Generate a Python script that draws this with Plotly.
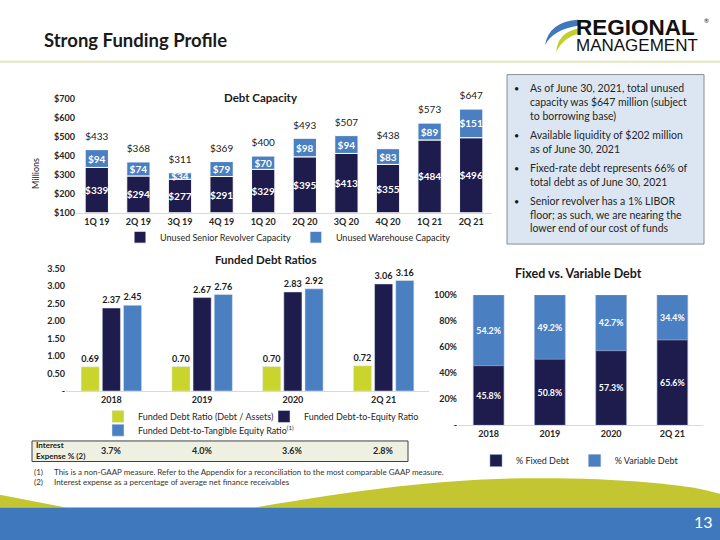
import plotly.graph_objects as go

# debt capacity ($ millions)
quarters = ["1Q 19", "2Q 19", "3Q 19", "4Q 19", "1Q 20", "2Q 20", "3Q 20", "4Q 20", "1Q 21", "2Q 21"]
senior = [339, 294, 277, 291, 329, 395, 413, 355, 484, 496]
warehouse = [94, 74, 34, 79, 70, 98, 94, 83, 89, 151]
total_cap = [433, 368, 311, 369, 400, 493, 507, 438, 573, 647]

# funded debt ratios
periods = ["2018", "2019", "2020", "2Q 21"]
debt_assets = [0.69, 0.70, 0.70, 0.72]
debt_equity = [2.37, 2.67, 2.83, 3.06]
debt_tangible = [2.45, 2.76, 2.92, 3.16]
interest_exp = ["3.7%", "4.0%", "3.6%", "2.8%"]

# fixed vs variable (%)
fixed_pct = [45.8, 50.8, 57.3, 65.6]
variable_pct = [54.2, 49.2, 42.7, 34.4]

bullets = [
    ["As of June 30, 2021, total unused", "capacity was $647 million (subject", "to borrowing base)"],
    ["Available liquidity of $202 million", "as of June 30, 2021"],
    ["Fixed-rate debt represents 66% of", "total debt as of June 30, 2021"],
    ["Senior revolver has a 1% LIBOR", "floor; as such, we are nearing the", "lower end of our cost of funds"],
]

NAVY = "#1e1b4d"
BLUE = "#4a7fc1"
GREEN = "#c9d42c"
FONT = "Lato, Noto Sans, sans-serif"
W, H = 720, 540
Y0 = 100  # debt capacity axis floor


def px(x):
    return x / W


def py(y):
    return 1 - y / H


fig = go.Figure()

# --- Debt Capacity ---
fig.add_trace(go.Bar(
    x=quarters, y=[v - Y0 for v in senior], base=Y0, name="Unused Senior Revolver Capacity",
    marker=dict(color=NAVY, line=dict(color="white", width=1)),
    width=0.56, offset=-0.28,
    text=["$%d" % v for v in senior], textposition="inside", insidetextanchor="middle", textangle=0,
    textfont=dict(color="white", size=10, family=FONT, weight="bold"),
    constraintext="none", xaxis="x", yaxis="y", legend="legend"))
fig.add_trace(go.Bar(
    x=quarters, y=warehouse, base=senior, name="Unused Warehouse Capacity",
    marker=dict(color=BLUE, line=dict(color="white", width=1)),
    width=0.56, offset=-0.28,
    text=["$%d" % v for v in warehouse], textposition="inside", insidetextanchor="middle", textangle=0,
    textfont=dict(color="white", size=10, family=FONT, weight="bold"),
    constraintext="none", xaxis="x", yaxis="y", legend="legend"))
fig.add_trace(go.Scatter(
    x=quarters, y=total_cap, mode="markers+text", text=["$%d" % v for v in total_cap],
    marker=dict(size=10, opacity=0),
    textposition="top center", textfont=dict(color="#1a1a1a", size=10, family=FONT),
    showlegend=False, cliponaxis=False, xaxis="x", yaxis="y", hoverinfo="skip"))

# --- Funded Debt Ratios ---
for vals, nm, col, off, lg in [
    (debt_assets, "Funded Debt Ratio (Debt / Assets)", GREEN, -0.3333, "legend2"),
    (debt_equity, "Funded Debt-to-Equity Ratio", NAVY, -0.1, "legend2"),
    (debt_tangible, "Funded Debt-to-Tangible Equity Ratio<sup>(1)</sup>", BLUE, 0.1333, "legend3"),
]:
    fig.add_trace(go.Bar(
        x=periods, y=vals, name=nm, marker=dict(color=col),
        width=0.2, offset=off,
        text=["%.2f" % v for v in vals], textposition="outside", textangle=0,
        textfont=dict(color="#1a1a1a", size=10, family=FONT, weight="bold"),
        cliponaxis=False, xaxis="x2", yaxis="y2", legend=lg))

# --- Fixed vs Variable ---
fig.add_trace(go.Bar(
    x=periods, y=fixed_pct, name="% Fixed Debt",
    marker=dict(color=NAVY, line=dict(color="#8a9ccc", width=0.6)),
    width=0.5, offset=-0.25,
    text=["%.1f%%" % v for v in fixed_pct], textposition="inside", insidetextanchor="middle", textangle=0,
    textfont=dict(color="white", size=10, family=FONT, weight="bold"),
    xaxis="x3", yaxis="y3", legend="legend4"))
fig.add_trace(go.Bar(
    x=periods, y=variable_pct, base=fixed_pct, name="% Variable Debt",
    marker=dict(color=BLUE, line=dict(color="#8a9ccc", width=0.6)),
    width=0.5, offset=-0.25,
    text=["%.1f%%" % v for v in variable_pct], textposition="inside", insidetextanchor="middle", textangle=0,
    textfont=dict(color="white", size=10, family=FONT, weight="bold"),
    xaxis="x3", yaxis="y3", legend="legend4"))

tickf = dict(size=9, family=FONT, color="#262626", weight="bold")
legf = dict(size=9, family=FONT, color="#262626")

shapes = []
annotations = []

# header line
shapes.append(dict(type="line", xref="paper", yref="paper", x0=0, x1=1, y0=py(57), y1=py(57),
                   line=dict(color="#e3e8bd", width=2)))
# info box
shapes.append(dict(type="rect", xref="paper", yref="paper", x0=px(507), x1=px(704), y0=py(70), y1=py(243),
                   fillcolor="#dce6f2", line=dict(color="#8c8c8c", width=1)))
# interest expense strip
shapes.append(dict(type="rect", xref="paper", yref="paper", x0=px(32), x1=px(408), y0=py(444), y1=py(465),
                   fillcolor="#eef1e2", line=dict(color="#404040", width=1)))

# bottom band
shapes.append(dict(type="path", xref="paper", yref="paper",
                   path="M%f,%f Q%f,%f %f,%f L%f,%f Z" % (px(0), py(499), px(30), py(505), px(66), py(512), px(0), py(512)),
                   fillcolor="#c3c631", line=dict(width=0)))
shapes.append(dict(type="path", xref="paper", yref="paper",
                   path="M%f,%f C%f,%f %f,%f %f,%f C%f,%f %f,%f %f,%f L%f,%f Z" % (
                       px(255), py(512), px(380), py(490), px(460), py(482), px(540), py(482),
                       px(620), py(482), px(690), py(488), px(720), py(498), px(720), py(512)),
                   fillcolor="#c3c631", line=dict(width=0)))
shapes.append(dict(type="rect", xref="paper", yref="paper", x0=0, x1=1, y0=-0.02, y1=py(512),
                   fillcolor="#3f78bd", line=dict(width=0)))

# logo swooshes
shapes.append(dict(type="path", xref="paper", yref="paper",
                   path="M%f,%f Q%f,%f %f,%f Q%f,%f %f,%f Z" % (
                       px(578), py(14), px(549), py(16), px(545), py(40), px(553), py(24), px(579), py(20)),
                   fillcolor="#3f78bd", line=dict(width=0)))
shapes.append(dict(type="path", xref="paper", yref="paper",
                   path="M%f,%f Q%f,%f %f,%f Q%f,%f %f,%f Z" % (
                       px(578), py(23), px(558), py(27), px(556), py(47), px(563), py(32), px(579), py(28)),
                   fillcolor="#c3cf2c", line=dict(width=0)))


def txt(x, y, s, size, color="#1a1a1a", xanchor="left", weight="normal", family=FONT):
    annotations.append(dict(x=px(x), y=py(y), xref="paper", yref="paper", text=s,
                            showarrow=False, xanchor=xanchor, yanchor="middle", align="left",
                            font=dict(size=size, color=color, family=family, weight=weight)))


txt(42, 35, "Strong Funding Profile", 18.5, weight="bold")
# logo wordmark as one two-line text
txt(574, 30, "<span style='font-size:22.5px;font-weight:bold'>REGIONAL</span><br>"
             "<span style='font-size:17px'>MANAGEMENT</span>",
    12, color="#111111", family="Liberation Sans, Arial, sans-serif")
txt(702, 15, "®", 6, color="#111111")

# chart titles
txt(261, 93, "Debt Capacity", 11.5, xanchor="center", weight="bold")
txt(266, 259, "Funded Debt Ratios", 11.5, xanchor="center", weight="bold")
txt(578, 273, "Fixed vs. Variable Debt", 12.5, xanchor="center", weight="bold")

# y-axis title
annotations.append(dict(x=px(28), y=py(153), xref="paper", yref="paper", text="Millions", textangle=-90,
                        showarrow=False, font=dict(size=9, family=FONT, color="#262626")))

# bullets
line_y = 84
for b in bullets:
    txt(512, line_y, "•", 9)
    for ln in b:
        txt(528, line_y, ln, 10.5, color="#262626")
        line_y += 14
    line_y += 5.7

# interest expense row, one value under each funded-ratio period
x2_dom = (66, 429)
txt(34, 448, "Interest", 8, weight="bold")
txt(34, 459, "Expense % (2)", 8, weight="bold")
for i, v in enumerate(interest_exp):
    cx = x2_dom[0] + (i + 0.5) * (x2_dom[1] - x2_dom[0]) / len(interest_exp)
    txt(cx, 454, v, 9, color="#262626", xanchor="center", weight="bold")

# footnotes
txt(32, 476, "(1)", 8, color="#333333")
txt(52, 476, "This is a non-GAAP measure. Refer to the Appendix for a reconciliation to the most comparable GAAP measure.", 8, color="#333333")
txt(32, 486, "(2)", 8, color="#333333")
txt(52, 486, "Interest expense as a percentage of average net finance receivables", 8, color="#333333")

txt(703, 526, "13", 16, color="white", xanchor="center")

fig.update_layout(
    width=W, height=H, margin=dict(l=0, r=0, t=0, b=0),
    paper_bgcolor="white", plot_bgcolor="rgba(0,0,0,0)",
    barmode="overlay", font=dict(family=FONT, color="#262626"),
    shapes=shapes, annotations=annotations,
    xaxis=dict(domain=[px(76), px(492)], type="category", categoryorder="array", categoryarray=quarters,
               range=[-0.5, len(quarters) - 0.5], tickfont=tickf, showline=True,
               linecolor="#d9d9d9", ticks="", anchor="y"),
    yaxis=dict(domain=[py(211), py(95)], range=[100, 700], tickvals=[100, 200, 300, 400, 500, 600, 700],
               ticktext=["$100", "$200", "$300", "$400", "$500", "$600", "$700"],
               tickfont=tickf, showgrid=False, zeroline=False, anchor="x"),
    xaxis2=dict(domain=[px(x2_dom[0]), px(x2_dom[1])], type="category", categoryorder="array", categoryarray=periods,
                range=[-0.5, len(periods) - 0.5], tickfont=tickf, showline=True,
                linecolor="#d9d9d9", ticks="", anchor="y2"),
    yaxis2=dict(domain=[py(393), py(268)], range=[0, 3.5], tickvals=[0, 0.5, 1, 1.5, 2, 2.5, 3, 3.5],
                ticktext=["-", "0.50", "1.00", "1.50", "2.00", "2.50", "3.00", "3.50"],
                tickfont=tickf, showgrid=False, zeroline=False, anchor="x2"),
    xaxis3=dict(domain=[px(458), px(703)], type="category", categoryorder="array", categoryarray=periods,
                range=[-0.5, len(periods) - 0.5], tickfont=tickf, showline=True,
                linecolor="#d9d9d9", ticks="", anchor="y3"),
    yaxis3=dict(domain=[py(428), py(295)], range=[0, 100], tickvals=[0, 20, 40, 60, 80, 100],
                ticktext=["-", "20%", "40%", "60%", "80%", "100%"],
                tickfont=tickf, showgrid=False, zeroline=False, anchor="x3"),
    legend=dict(orientation="h", x=px(288), xanchor="center", y=py(236), yanchor="middle",
                font=legf, bgcolor="rgba(0,0,0,0)", itemwidth=30, traceorder="normal"),
    legend2=dict(orientation="h", x=px(98), xanchor="left", y=py(419), yanchor="middle",
                 font=legf, bgcolor="rgba(0,0,0,0)", itemwidth=30, entrywidth=121, traceorder="normal"),
    legend3=dict(orientation="h", x=px(98), xanchor="left", y=py(433), yanchor="middle",
                 font=legf, bgcolor="rgba(0,0,0,0)", itemwidth=30),
    legend4=dict(orientation="h", x=px(580), xanchor="center", y=py(464), yanchor="middle",
                 font=legf, bgcolor="rgba(0,0,0,0)", itemwidth=30, traceorder="normal"),
)

fig.write_html(
    "out.html",
    config={"displayModeBar": False},
    post_script="document.body.style.margin='0px';"
                "document.body.style.overflow='hidden';"
                "document.documentElement.style.overflow='hidden';",
)
